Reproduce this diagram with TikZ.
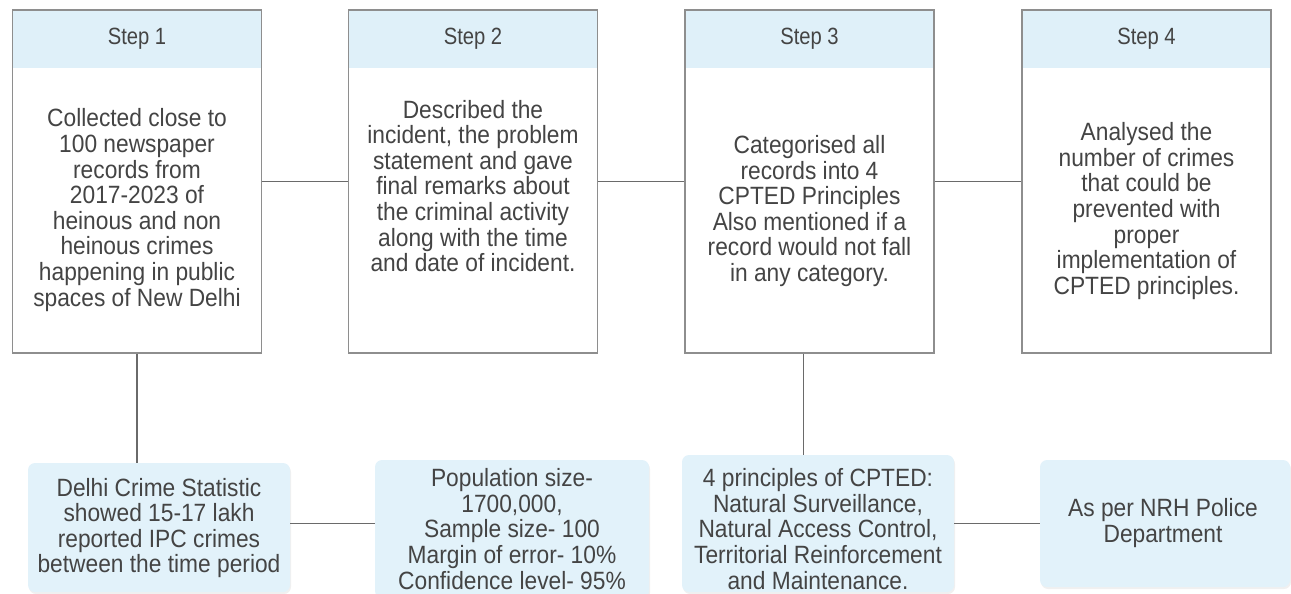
\documentclass[tikz,border=0pt]{standalone}
\usepackage{fontspec}
\setmainfont{Liberation Sans}
\newfontfamily\narrowsans[FakeStretch=0.91]{Liberation Sans}
\newfontfamily\titlesans[FakeStretch=0.86]{Liberation Sans}
\usetikzlibrary{shadows}
\definecolor{bordergray}{HTML}{8E8E8E}
\definecolor{linegray}{HTML}{6A6A6A}
\definecolor{headblue}{HTML}{DFF0F9}
\definecolor{boxblue}{HTML}{E2F2FA}
\definecolor{txt}{HTML}{444444}
\tikzset{
  stepbox/.style={draw=bordergray, line width=1.4pt, fill=white, minimum width=249pt, minimum height=343pt,
    path picture={\fill[headblue] (path picture bounding box.north west) rectangle ([yshift=-58pt]path picture bounding box.north east);}},
  steptitle/.style={text=txt, font=\titlesans\fontsize{23.5}{26}\selectfont},
  bodytext/.style={text=txt, align=center, font=\narrowsans\fontsize{25}{25.6}\selectfont, inner sep=0pt},
  infobox/.style={fill=boxblue, rounded corners=7pt, drop shadow={opacity=0.12, shadow xshift=1pt, shadow yshift=-2pt}},
  conn/.style={draw=linegray, line width=1.4pt}
}
\begin{document}
\begin{tikzpicture}[x=1pt,y=-1pt]
\useasboundingbox (0,0) rectangle (1291,594);
% step boxes
\node[stepbox] (s1) at (137,181.5) {};
\node[stepbox] (s2) at (473,181.5) {};
\node[stepbox] (s3) at (809.5,181.5) {};
\node[stepbox] (s4) at (1146.5,181.5) {};
\node[steptitle] (h1) at (137,39) {Step 1};
\node[steptitle] (h2) at (473,39) {Step 2};
\node[steptitle] (h3) at (809.5,39) {Step 3};
\node[steptitle] (h4) at (1146.5,39) {Step 4};
\node[bodytext] (t1) at (137,210) {Collected close to\\100 newspaper\\records from\\2017-2023 of\\heinous and non\\heinous crimes\\happening in public\\spaces of New Delhi};
\node[bodytext] (t2) at (473,186) {Described the\\incident, the problem\\statement and gave\\final remarks about\\the criminal activity\\along with the time\\and date of incident.};
\node[bodytext] (t3) at (809.5,211) {Categorised all\\records into 4\\CPTED Principles\\Also mentioned if a\\record would not fall\\in any category.};
\node[bodytext] (t4) at (1146.5,211) {Analysed the\\number of crimes\\that could be\\prevented with\\proper\\implementation of\\CPTED principles.};
% bottom boxes
\node[infobox, minimum width=262pt, minimum height=129pt] (b1) at (159,527.5) {};
\node[infobox, minimum width=274pt, minimum height=138pt] (b2) at (512,529) {};
\node[infobox, minimum width=272pt, minimum height=137pt] (b3) at (818,523.5) {};
\node[infobox, minimum width=250pt, minimum height=127pt] (b4) at (1165,523.5) {};
\node[bodytext] (u1) at (159,528) {Delhi Crime Statistic\\showed 15-17 lakh\\reported IPC crimes\\between the time period};
\node[bodytext] (u2) at (512,529) {Population size-\\1700,000,\\Sample size- 100\\Margin of error- 10\%\\Confidence level- 95\%};
\node[bodytext] (u3) at (818,529) {4 principles of CPTED:\\Natural Surveillance,\\Natural Access Control,\\Territorial Reinforcement\\and Maintenance.};
\node[bodytext] (u4) at (1163,523) {As per NRH Police\\Department};
% connectors
\draw[conn] (s1.east) -- (s2.west);
\draw[conn] (s2.east) -- (s3.west);
\draw[conn] (s3.east) -- (s4.west);
\draw[conn] (s1.south) -- (s1.south |- b1.north);
\draw[conn] ([xshift=-6pt]s3.south) -- ([xshift=-6pt]s3.south |- b3.north);
\draw[conn] ([yshift=4pt]b1.east) -- ([yshift=4pt]b1.east -| b2.west);
\draw[conn] (b3.east) -- (b3.east -| b4.west);
\end{tikzpicture}
\end{document}
